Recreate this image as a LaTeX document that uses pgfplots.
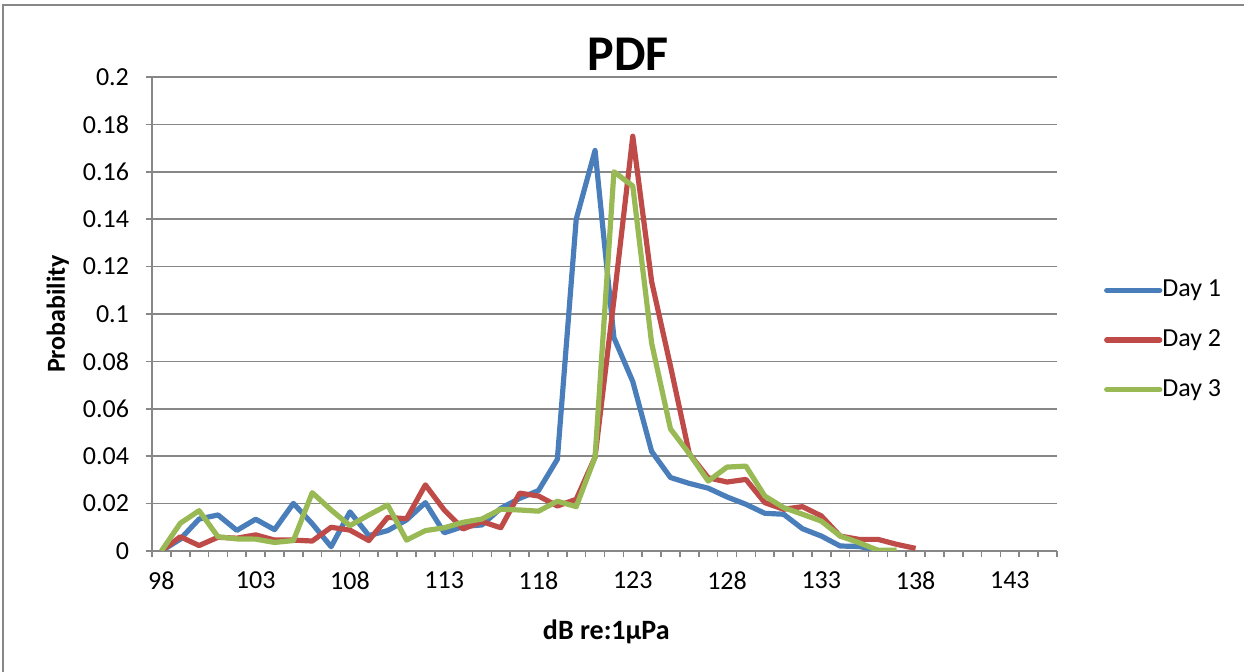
\documentclass[border=0pt]{standalone}
\usepackage{pgfplots}
\pgfplotsset{compat=1.18}
\usepackage{fontspec}
\setmainfont{Carlito}
\definecolor{cA}{HTML}{4A7EBB}
\definecolor{cB}{HTML}{BE4B48}
\definecolor{cC}{HTML}{98B954}
\definecolor{gridc}{HTML}{878787}
\begin{document}
\begin{tikzpicture}
\path[use as bounding box] (0,0) rectangle (622pt,336pt);
\draw[gridc, line width=0.8pt] (1.5pt,0) -- (1.5pt,333.5pt) -- (622pt,333.5pt);
\begin{axis}[
  at={(76pt,60.5pt)}, anchor=south west,
  scale only axis, width=452.5pt, height=237pt,
  xmin=97.5, xmax=145.5, ymin=0, ymax=0.2,
  axis x line=bottom, axis y line=left,
  axis line style={-, gridc, line width=0.8pt},
  xtick={98,103,108,113,118,123,128,133,138,143},
  xticklabels={98,103,108,113,118,123,128,133,138,143},
  minor xtick={97.5,98.5,...,145.5},
  ytick={0,0.02,0.04,0.06,0.08,0.1,0.12,0.14,0.16,0.18,0.2},
  yticklabels={0,0.02,0.04,0.06,0.08,0.1,0.12,0.14,0.16,0.18,0.2},
  tick align=outside,
  major tick length=3pt, minor tick length=3pt,
  x tick style={draw=none},
  minor x tick style={draw=gridc, line width=0.8pt},
  y tick style={draw=gridc, line width=0.8pt},
  ymajorgrids, grid style={gridc, line width=0.8pt},
  tick label style={font=\fontsize{13}{15}\selectfont, black},
  xticklabel style={yshift=-4pt},
  yticklabel style={xshift=-5pt},
  title={PDF},
  title style={at={(axis description cs:0.526,1.023)}, anchor=center, yshift=0pt, font=\fontsize{25}{30}\bfseries\selectfont},
  xlabel={dB re:1μPa},
  xlabel style={at={(axis description cs:0.502,-0.171)}, anchor=center, font=\fontsize{14}{16}\bfseries\selectfont},
  ylabel={Probability},
  ylabel style={at={(axis description cs:-0.104,0.5)}, anchor=center, font=\fontsize{13}{15}\bfseries\selectfont},
  legend style={at={(axis description cs:1.045,0.445)}, anchor=west, draw=none, fill=none,
     font=\fontsize{13}{15}\selectfont, row sep=13.3pt,
     nodes={inner sep=0pt, text height=9pt, text depth=2.5pt}},
  legend cell align=left,
  /tikz/every even column/.append style={column sep=2.5pt},
  legend image code/.code={\draw[#1, line cap=round] (0pt,0pt) -- (26.5pt,0pt);},
  every axis plot/.append style={line width=2.6pt, line join=round, mark=none},
]
\addplot[cA] table {
98 0
99 0.005
100 0.0135
101 0.0152
102 0.0087
103 0.0134
104 0.009
105 0.0201
106 0.0115
107 0.0018
108 0.0165
109 0.0065
110 0.0086
111 0.0131
112 0.0204
113 0.0077
114 0.0103
115 0.011
116 0.018
117 0.0222
118 0.0255
119 0.0387
120 0.140
121 0.169
122 0.090
123 0.0715
124 0.042
125 0.031
126 0.0285
127 0.0265
128 0.0228
129 0.0197
130 0.0159
131 0.0155
132 0.0094
133 0.0063
134 0.0021
135 0.0019
136 0.0003
};
\addlegendentry{Day 1}
\addplot[cB] table {
98 0
99 0.006
100 0.0023
101 0.0058
102 0.0054
103 0.0068
104 0.0046
105 0.0046
106 0.0042
107 0.0100
108 0.0088
109 0.0044
110 0.0142
111 0.0136
112 0.0279
113 0.0173
114 0.0093
115 0.0124
116 0.0098
117 0.0244
118 0.0232
119 0.0190
120 0.0218
121 0.0396
122 0.106
123 0.175
124 0.1137
125 0.078
126 0.041
127 0.0309
128 0.0291
129 0.0302
130 0.0204
131 0.0176
132 0.0187
133 0.0148
134 0.0063
135 0.0049
136 0.0049
137 0.0028
138 0.0011
};
\addlegendentry{Day 2}
\addplot[cC] table {
98 0
99 0.0117
100 0.017
101 0.006
102 0.0051
103 0.005
104 0.0036
105 0.0044
106 0.0246
107 0.0173
108 0.0107
109 0.0152
110 0.0194
111 0.0046
112 0.0086
113 0.0098
114 0.0121
115 0.0135
116 0.0176
117 0.0173
118 0.0168
119 0.0210
120 0.0187
121 0.0396
122 0.160
123 0.154
124 0.0877
125 0.0515
126 0.041
127 0.0295
128 0.0354
129 0.0358
130 0.0232
131 0.0183
132 0.0155
133 0.0126
134 0.0063
135 0.0035
136 0.0003
137 0.0003
};
\addlegendentry{Day 3}
\end{axis}
\end{tikzpicture}
\end{document}
